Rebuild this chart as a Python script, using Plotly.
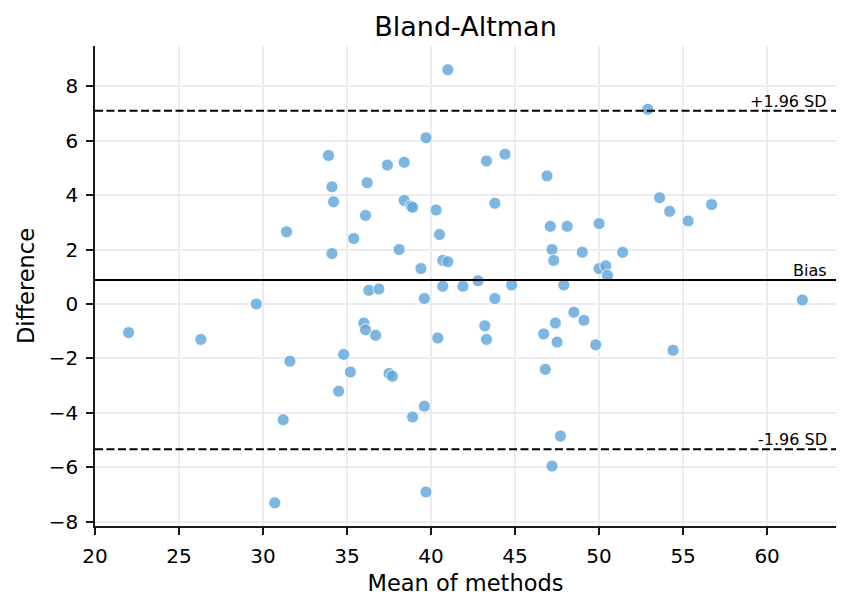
import plotly.graph_objects as go

mean_vals = [22.0, 26.3, 29.6, 30.7, 31.2, 31.4, 31.6, 33.9, 34.1, 34.1,
             34.2, 34.5, 34.8, 35.2, 35.4, 36.0, 36.1, 36.1, 36.2, 36.3,
             36.7, 36.9, 37.4, 37.5, 37.7, 38.1, 38.4, 38.4, 38.8, 38.9,
             38.9, 39.4, 39.6, 39.6, 39.7, 39.7, 40.3, 40.4, 40.5, 40.7,
             40.7, 41.0, 41.0, 41.9, 42.8, 43.2, 43.3, 43.3, 43.8, 43.8,
             44.4, 44.8, 46.7, 46.8, 46.9, 47.1, 47.2, 47.3, 47.2, 47.4,
             47.5, 47.7, 47.9, 48.1, 48.5, 49.0, 49.1, 49.8, 50.0, 50.0,
             50.4, 50.5, 51.4, 52.9, 53.6, 54.2, 54.4, 55.3, 56.7, 62.1]
diff_vals = [-1.05, -1.3, 0.0, -7.3, -4.25, 2.65, -2.1, 5.45, 4.3, 1.85,
             3.75, -3.2, -1.85, -2.5, 2.4, -0.7, -0.95, 3.25, 4.45, 0.5,
             -1.15, 0.55, 5.1, -2.55, -2.65, 2.0, 5.2, 3.8, 3.6, 3.55,
             -4.15, 1.3, 0.2, -3.75, 6.1, -6.9, 3.45, -1.25, 2.55, 1.6,
             0.65, 1.55, 8.6, 0.65, 0.85, -0.8, 5.25, -1.3, 0.2, 3.7,
             5.5, 0.7, -1.1, -2.4, 4.7, 2.85, 2.0, 1.6, -5.95, -0.7,
             -1.4, -4.85, 0.7, 2.85, -0.3, 1.9, -0.6, -1.5, 2.95, 1.3,
             1.4, 1.05, 1.9, 7.15, 3.9, 3.4, -1.7, 3.05, 3.65, 0.15]
bias = 0.88
upper_loa = 7.09
lower_loa = -5.33
x_ticks = [20, 25, 30, 35, 40, 45, 50, 55, 60]
y_ticks = [-8, -6, -4, -2, 0, 2, 4, 6, 8]

font = "DejaVu Sans"
fig = go.Figure()
fig.add_trace(go.Scatter(
    x=mean_vals, y=diff_vals, mode="markers",
    marker=dict(size=12, color="rgba(93,165,218,0.8)",
                line=dict(color="white", width=0.8)),
    showlegend=False, hoverinfo="skip"))

for val, dash, label in [(upper_loa, "8px,3.5px", "+1.96 SD"), (bias, "solid", "Bias"),
                         (lower_loa, "8px,3.5px", "-1.96 SD")]:
    fig.add_hline(y=val, line=dict(color="black", width=2, dash=dash))
    fig.add_annotation(x=1, xref="paper", y=val, yref="y", text=label,
                       showarrow=False, xanchor="right", yanchor="bottom",
                       xshift=-7, yshift=-2, font=dict(family=font, size=16, color="black"))

fig.update_layout(
    width=850, height=611,
    margin=dict(l=95, r=14, t=46, b=85),
    plot_bgcolor="white", paper_bgcolor="white",
    title=dict(text="Bland-Altman", x=0.5, xref="paper", xanchor="center",
               y=1 - 27 / 611, yanchor="middle",
               font=dict(family=font, size=27, color="black")),
    font=dict(family=font, size=20, color="black"),
)
fig.update_xaxes(range=[20, 64.1], tickvals=x_ticks, showgrid=True, gridcolor="#ebebf1",
                 gridwidth=2, zeroline=False, showline=True, linecolor="#1a1a1a", linewidth=1.7,
                 ticks="outside", ticklen=7, tickwidth=1.7, tickcolor="#1a1a1a",
                 ticklabelstandoff=4,
                 title=dict(text="Mean of methods", font=dict(family=font, size=22.5), standoff=8),
                 tickfont=dict(family=font, size=20))
fig.update_yaxes(range=[-8.15, 9.47], tickvals=y_ticks, showgrid=True, gridcolor="#ebebf1",
                 gridwidth=2, zeroline=False, showline=True, linecolor="#1a1a1a", linewidth=1.7,
                 ticks="outside", ticklen=7, tickwidth=1.7, tickcolor="#1a1a1a",
                 ticklabelstandoff=4,
                 title=dict(text="Difference", font=dict(family=font, size=22.5), standoff=8),
                 tickfont=dict(family=font, size=20))

fig.write_html("out.html")
